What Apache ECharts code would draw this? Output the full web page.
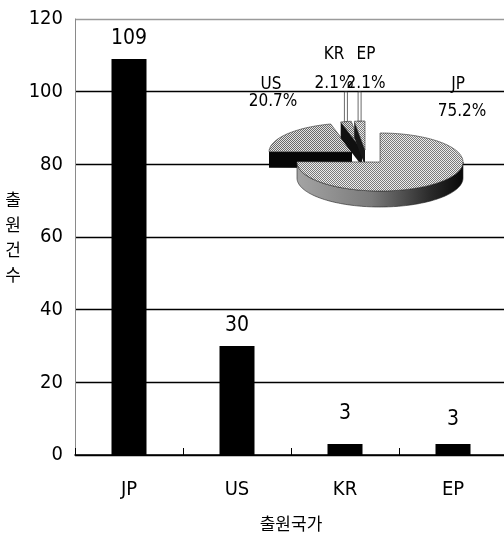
<!DOCTYPE html>
<html>
<head>
<meta charset="utf-8">
<script src="https://cdn.jsdelivr.net/npm/echarts@6/dist/echarts.min.js"></script>
<style>
  html, body { margin: 0; padding: 0; background: #fff; }
  #chart { width: 504px; height: 534px; }
</style>
</head>
<body>
<div id="chart"></div>
<script>
// Filing counts per filing office
const countries = ['JP', 'US', 'KR', 'EP'];
const filings = [109, 30, 3, 3];

// Value axis range
const yMin = 0;
const yMax = 120;
const yStep = 20;

const yAxisTitle = '출원건수';
const xAxisTitle = '출원국가';

// ---- styling / layout ----
const NARROW = "'DejaVu Sans Condensed', 'Liberation Sans Narrow', sans-serif";
const KOREAN = "'Noto Sans CJK KR', sans-serif";

// extra upward lift of the bar value labels (px)
const barLabelLift = [0, 0, 10, 4];

// checkered halftone fill for the pie faces
function halftone(dark, light) {
  const c = document.createElement('canvas');
  c.width = 2; c.height = 2;
  const g = c.getContext('2d');
  g.fillStyle = light; g.fillRect(0, 0, 2, 2);
  g.fillStyle = dark; g.fillRect(0, 0, 1, 1); g.fillRect(1, 1, 1, 1);
  return { image: c, repeat: 'repeat' };
}

// 3D pie inset geometry
const PIE = { cx: 368, cy: 156, rx: 83, ry: 29, depth: 16 };
const sliceShift = [[12, 6], [-16, -4], [-6, -6], [-3, -6]];
const sliceTopColor = [
  halftone('#7a7a7a', '#ececec'), halftone('#6a6a6a', '#e4e4e4'),
  halftone('#666', '#e0e0e0'), halftone('#7a7a7a', '#ececec')
];
const sliceWallColor = [
  { type: 'linear', x: 0, y: 0, x2: 1, y2: 0, colorStops: [
    { offset: 0, color: '#a4a4a4' }, { offset: 0.45, color: '#7a7a7a' },
    { offset: 0.8, color: '#2a2a2a' }, { offset: 1, color: '#080808' } ] },
  '#060606', '#101010', '#181818'
];
const slicePaintRank = [3, 0, 1, 2];
const pieNamePos = [[458, 85], [271, 85], [334, 55], [366, 55]];
const piePctPos = [[462, 112], [273, 102], [334, 84], [366, 84]];
const leaderTopY = 92;

const total = filings.reduce((a, b) => a + b, 0);
const startFrac = [];
(function () {
  let acc = 0;
  filings.forEach(v => { startFrac.push(acc / total); acc += v; });
})();

function renderSlice(params, api) {
  const i = params.dataIndex;
  const v = api.value(0);
  const TAU = Math.PI * 2;
  const a0 = startFrac[i] * TAU;
  const a1 = a0 + (v / total) * TAU;
  const cx = PIE.cx + sliceShift[i][0];
  const cy = PIE.cy + sliceShift[i][1];
  const P = (a, dz) => [cx + PIE.rx * Math.sin(a), cy - PIE.ry * Math.cos(a) + (dz || 0)];
  const arc = (from, to, dz) => {
    const n = Math.max(2, Math.ceil((to - from) / 0.03));
    const pts = [];
    for (let k = 0; k <= n; k++) pts.push(P(from + (to - from) * k / n, dz));
    return pts;
  };
  const base = slicePaintRank[i] * 10;
  const D = PIE.depth;
  const kids = [];

  // front part of the rim
  const f0 = Math.max(a0, Math.PI / 2), f1 = Math.min(a1, Math.PI * 1.5);
  if (f1 > f0) {
    kids.push({
      type: 'polygon', z2: base + 1,
      shape: { points: arc(f0, f1, 0).concat(arc(f0, f1, D).reverse()) },
      style: { fill: sliceWallColor[i], stroke: '#222', lineWidth: 0.6 }
    });
  }
  // radial walls facing the viewer
  const wall = (a) => {
    const p = P(a, 0);
    return { type: 'polygon', z2: base + 2,
      shape: { points: [[cx, cy], p, [p[0], p[1] + D], [cx, cy + D]] },
      style: { fill: typeof sliceWallColor[i] === 'string' ? sliceWallColor[i] : '#151515' } };
  };
  if (Math.sin(a0) < -1e-6) kids.push(wall(a0));
  if (Math.sin(a1) > 1e-6) kids.push(wall(a1));

  // top face
  kids.push({
    type: 'polygon', z2: base + 3,
    shape: { points: [[cx, cy]].concat(arc(a0, a1, 0)) },
    style: { fill: sliceTopColor[i], stroke: '#333', lineWidth: 0.6 }
  });

  // leader for narrow slices
  const pct = v / total * 100;
  if (pct < 5) {
    const m = P((a0 + a1) / 2, 0);
    kids.push({
      type: 'rect', z2: 90,
      shape: { x: m[0] - 1.5, y: leaderTopY, width: 3, height: m[1] - leaderTopY },
      style: { fill: '#fff', stroke: '#444', lineWidth: 0.8 }
    });
  }

  // name and share labels
  kids.push({
    type: 'text', z2: 100,
    style: { text: countries[i], x: pieNamePos[i][0], y: pieNamePos[i][1],
      align: 'center', verticalAlign: 'middle', font: '17px ' + NARROW, fill: '#000' }
  });
  kids.push({
    type: 'text', z2: 100,
    style: { text: pct.toFixed(1) + '%', x: piePctPos[i][0], y: piePctPos[i][1],
      align: 'center', verticalAlign: 'middle', font: '17px ' + NARROW, fill: '#000' }
  });

  return { type: 'group', children: kids };
}

const splitColors = [];
for (let t = yMin; t <= yMax; t += yStep) splitColors.push(t === yMax ? '#9a9a9a' : '#000');

const chart = echarts.init(document.getElementById('chart'), null, { renderer: 'canvas' });
chart.setOption({
  animation: false,
  backgroundColor: '#fff',
  grid: { left: 75, top: 19, width: 432, height: 436, containLabel: false, outerBoundsMode: 'none' },
  xAxis: {
    type: 'category',
    data: countries,
    axisLine: { lineStyle: { color: '#000', width: 1.5 } },
    axisTick: { show: true, inside: true, length: 7, lineStyle: { color: '#000', width: 1 } },
    axisLabel: { color: '#000', fontSize: 20, fontFamily: NARROW, margin: 25 },
    name: xAxisTitle,
    nameLocation: 'middle',
    nameGap: 60,
    nameTextStyle: { color: '#000', fontSize: 17, fontFamily: KOREAN }
  },
  yAxis: {
    type: 'value',
    min: yMin, max: yMax, interval: yStep,
    axisLine: { show: true, lineStyle: { color: '#8a8a8a', width: 1 } },
    axisTick: { show: false },
    axisLabel: { color: '#000', fontSize: 20, fontFamily: NARROW, margin: 12 },
    splitLine: { show: true, lineStyle: { color: splitColors, width: 1.3 } },
    name: yAxisTitle.split('').join('\n'),
    nameLocation: 'middle',
    nameRotate: 0,
    nameGap: 54,
    nameTextStyle: { color: '#000', fontSize: 17, lineHeight: 25, fontFamily: KOREAN }
  },
  series: [
    {
      type: 'bar',
      barWidth: 35,
      itemStyle: { color: '#000' },
      label: { show: true, position: 'top', distance: 10, color: '#000', fontSize: 21, fontFamily: NARROW },
      data: filings.map((v, i) => ({ value: v, label: { offset: [0, -barLabelLift[i]] } }))
    },
    {
      type: 'custom',
      coordinateSystem: 'none',
      renderItem: renderSlice,
      data: filings.map((v, i) => ({ name: countries[i], value: [v] })),
      z: 5,
      silent: true
    }
  ]
});
</script>
</body>
</html>
